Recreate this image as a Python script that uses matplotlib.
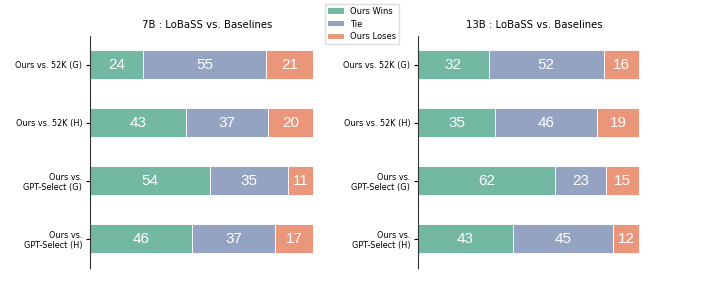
import matplotlib.pyplot as plt
from matplotlib.patches import Patch

plt.rcParams['font.family'] = ['DejaVu Sans']

categories = ["Ours vs. 52K (G)", "Ours vs. 52K (H)",
              "Ours vs.\nGPT-Select (G)", "Ours vs.\nGPT-Select (H)"]
series_names = ["Ours Wins", "Tie", "Ours Loses"]

wins_7b = [24, 43, 54, 46]
tie_7b = [55, 37, 35, 37]
lose_7b = [21, 20, 11, 17]

wins_13b = [32, 35, 62, 43]
tie_13b = [52, 46, 23, 45]
lose_13b = [16, 19, 15, 12]

colors = ['#72b8a2', '#95a3c2', '#e9967a']

fig = plt.figure(figsize=(7.23, 3.02), dpi=100)
ax1 = fig.add_axes([0.1245, 0.1126, 0.3235, 0.7682])
ax2 = fig.add_axes([0.578, 0.1126, 0.3215, 0.7682])


def draw(ax, wins, tie, lose, title):
    ypos = list(range(len(categories)))
    left = [0] * len(categories)
    for vals, c in zip([wins, tie, lose], colors):
        bars = ax.barh(ypos, vals, left=left, height=0.5, color=c,
                       edgecolor='white', linewidth=0.6)
        for b, v in zip(bars, vals):
            ax.text(b.get_x() + b.get_width() / 2, b.get_y() + b.get_height() / 2,
                    str(v), ha='center', va='center', color='white',
                    fontsize=11, family='Liberation Sans')
        left = [l + v for l, v in zip(left, vals)]
    ax.set_xlim(0, 105)
    ax.set_ylim(3.5, -0.5)
    ax.set_yticks(ypos)
    ax.set_yticklabels(categories, fontsize=5.9)
    ax.set_xticks([])
    for s in ['top', 'right', 'bottom']:
        ax.spines[s].set_visible(False)
    ax.spines['left'].set_color('#333333')
    ax.tick_params(axis='y', length=3, width=0.8, pad=2.5)
    ax.set_title(title, fontsize=7.3, pad=6)


draw(ax1, wins_7b, tie_7b, lose_7b, "7B : LoBaSS vs. Baselines")
draw(ax2, wins_13b, tie_13b, lose_13b, "13B : LoBaSS vs. Baselines")

handles = [Patch(facecolor=c, label=n) for c, n in zip(colors, series_names)]
fig.legend(handles=handles, loc='upper center', bbox_to_anchor=(0.5007, 0.987),
           fontsize=6, handlelength=1.9, handleheight=0.6, labelspacing=0.45,
           borderpad=0.35, handletextpad=0.8, borderaxespad=0,
           fancybox=False, framealpha=1, edgecolor='#dddddd')

fig.savefig('out.png', dpi=100)
